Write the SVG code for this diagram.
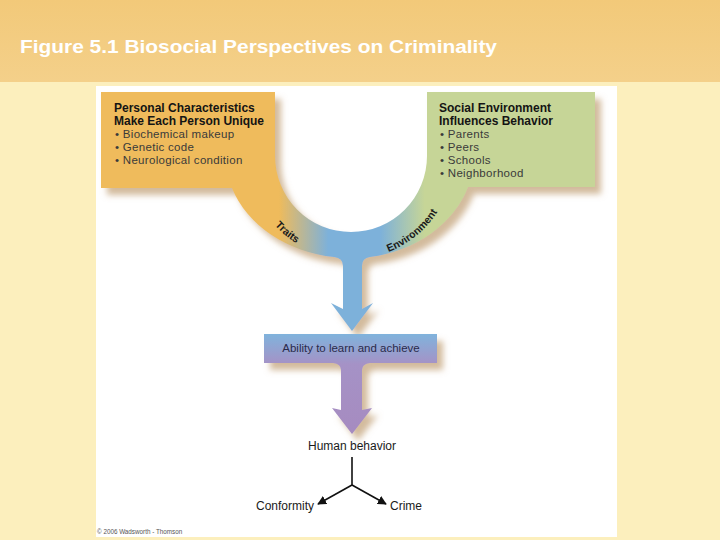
<svg xmlns="http://www.w3.org/2000/svg" width="720" height="540" viewBox="0 0 720 540">
<style>
.h{font-family:"Liberation Sans",Arial,sans-serif;font-weight:bold;font-size:12px;fill:#141414}
.b{font-family:"Liberation Sans",Arial,sans-serif;font-size:11.5px;letter-spacing:0.3px;fill:#3a3a3a}
.t{font-family:"Liberation Sans",Arial,sans-serif;font-size:12px;fill:#1a1a1a}
.c{font-family:"Liberation Sans",Arial,sans-serif;font-weight:bold;font-size:10.5px;fill:#1a1a1a}
</style>
<defs>
<linearGradient id="bg" x1="0" y1="0" x2="0" y2="1">
<stop offset="0" stop-color="#f2c979"/><stop offset="1" stop-color="#f4d08a"/>
</linearGradient>
<linearGradient id="ug" gradientUnits="userSpaceOnUse" x1="101" y1="0" x2="595" y2="0">
<stop offset="0" stop-color="#efbb5b"/>
<stop offset="0.36" stop-color="#efbb5b"/>
<stop offset="0.46" stop-color="#7db1da"/>
<stop offset="0.565" stop-color="#7db1da"/>
<stop offset="0.655" stop-color="#c6d597"/>
<stop offset="1" stop-color="#c6d597"/>
</linearGradient>
<linearGradient id="pg" gradientUnits="userSpaceOnUse" x1="0" y1="334" x2="0" y2="434">
<stop offset="0" stop-color="#80b3dc"/>
<stop offset="0.3" stop-color="#a592c6"/>
<stop offset="1" stop-color="#a68bc0"/>
</linearGradient>
<filter id="sh" x="-10%" y="-10%" width="130%" height="130%">
<feDropShadow dx="6" dy="7" stdDeviation="3" flood-color="#b58d5c" flood-opacity="0.6"/>
</filter>
<marker id="ah" viewBox="0 0 10 10" refX="9" refY="5" markerWidth="9" markerHeight="9" markerUnits="userSpaceOnUse" orient="auto">
<path d="M0,0 L10,5 L0,10 Z" fill="#111"/>
</marker>
<path id="arcp" d="M248,156 A103,103 0 0 0 454,156" fill="none"/>
</defs>
<rect x="0" y="0" width="720" height="540" fill="#fcefbd"/>
<rect x="0" y="0" width="720" height="82" fill="url(#bg)"/>
<text x="20" y="53" font-family="'Liberation Sans',Arial,sans-serif" font-weight="bold" font-size="18" fill="#ffffff" textLength="477" lengthAdjust="spacingAndGlyphs">Figure 5.1 Biosocial Perspectives on Criminality</text>
<rect x="96" y="86" width="521" height="451" fill="#ffffff"/>

<g id="traits-environment" filter="url(#sh)">
<path d="M101,92 H275 V156 A76,76 0 0 0 427,156 V92 H595 V187 H468 A124,102 0 0 1 370,257 Q362,258 362,266 V309 L373,303 L352,331 L331,303 L343,309 V266 Q343,258 334,257 A124,102 0 0 1 232,188 H101 Z" fill="url(#ug)"/>
</g>
<g id="personal-characteristics">
<text class="h" x="114" y="112">Personal Characteristics</text>
<text class="h" x="114" y="125">Make Each Person Unique</text>
<text class="b" x="115" y="138">• Biochemical makeup</text>
<text class="b" x="115" y="151">• Genetic code</text>
<text class="b" x="115" y="164">• Neurological condition</text>
</g>
<g id="social-environment">
<text class="h" x="439" y="112">Social Environment</text>
<text class="h" x="439" y="125">Influences Behavior</text>
<text class="b" x="440" y="138">• Parents</text>
<text class="b" x="440" y="151">• Peers</text>
<text class="b" x="440" y="164">• Schools</text>
<text class="b" x="440" y="177">• Neighborhood</text>
</g>
<g id="band-labels">
<text class="c" text-anchor="middle"><textPath href="#arcp" startOffset="90">Traits</textPath></text>
<text class="c" text-anchor="middle"><textPath href="#arcp" startOffset="232">Environment</textPath></text>
</g>

<g id="ability" filter="url(#sh)">
<path d="M264,334 H437 V363 H370 Q362,364 362,370 V410 L372,408 L352,434 L332,408 L341,410 V370 Q341,364 333,363 H264 Z" fill="url(#pg)"/>
</g>
<text x="351" y="352" text-anchor="middle" font-family="'Liberation Sans',Arial,sans-serif" font-size="11.5" fill="#2a2a4a">Ability to learn and achieve</text>

<g id="human-behavior">
<text class="t" x="352" y="450" text-anchor="middle">Human behavior</text>
</g>
<g id="conformity"><text class="t" x="314" y="510" text-anchor="end">Conformity</text></g>
<g id="crime"><text class="t" x="390" y="510">Crime</text></g>
<g id="connectors" stroke="#111" stroke-width="1.6" fill="none">
<line x1="352" y1="457" x2="352" y2="485"/>
<line x1="352" y1="485" x2="318" y2="504" marker-end="url(#ah)"/>
<line x1="352" y1="485" x2="386" y2="504" marker-end="url(#ah)"/>
</g>
<text x="97" y="534" font-family="'Liberation Sans',Arial,sans-serif" font-size="6.3" fill="#555">© 2006 Wadsworth - Thomson</text>
</svg>
